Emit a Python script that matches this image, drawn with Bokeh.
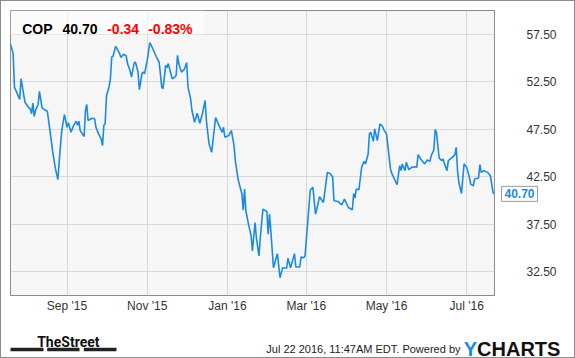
import pandas as pd
from bokeh.plotting import figure
from bokeh.layouts import column
from bokeh.models import (Range1d, FixedTicker, NumeralTickFormatter, Label,
                          BoxAnnotation, ColumnDataSource)
from bokeh.core.properties import value
from bokeh.embed import file_html
from bokeh.resources import INLINE

# ---------------- data ----------------
ticker = "COP"
last_price = 40.70
change = -0.34
change_pct = -0.83
timestamp_text = "Jul 22 2016, 11:47AM EDT. Powered by"

dates = [
    "2015-07-20", "2015-07-22", "2015-07-23", "2015-07-27", "2015-07-28", "2015-07-31",
    "2015-08-03", "2015-08-04", "2015-08-05", "2015-08-06", "2015-08-07", "2015-08-08",
    "2015-08-10", "2015-08-11", "2015-08-13", "2015-08-15", "2015-08-17", "2015-08-19",
    "2015-08-21", "2015-08-23", "2015-08-25", "2015-08-27", "2015-08-28", "2015-08-30",
    "2015-09-01", "2015-09-02", "2015-09-04", "2015-09-06", "2015-09-08", "2015-09-09",
    "2015-09-10", "2015-09-11", "2015-09-13", "2015-09-14", "2015-09-15", "2015-09-16",
    "2015-09-17", "2015-09-20", "2015-09-22", "2015-09-23", "2015-09-25", "2015-09-27",
    "2015-09-28", "2015-09-29", "2015-09-30",
    "2015-10-01", "2015-10-03", "2015-10-04", "2015-10-05", "2015-10-06", "2015-10-08",
    "2015-10-09", "2015-10-11", "2015-10-12", "2015-10-14", "2015-10-16", "2015-10-17",
    "2015-10-19", "2015-10-20", "2015-10-22", "2015-10-23", "2015-10-25", "2015-10-26",
    "2015-10-28", "2015-10-29", "2015-10-30", "2015-10-31",
    "2015-11-01", "2015-11-03", "2015-11-04", "2015-11-06", "2015-11-08", "2015-11-10",
    "2015-11-11", "2015-11-12", "2015-11-13", "2015-11-14", "2015-11-15", "2015-11-16",
    "2015-11-17", "2015-11-19", "2015-11-20", "2015-11-22", "2015-11-23", "2015-11-24",
    "2015-11-25", "2015-11-27", "2015-11-29", "2015-11-30",
    "2015-12-01", "2015-12-02", "2015-12-04", "2015-12-05", "2015-12-07", "2015-12-09",
    "2015-12-11", "2015-12-13", "2015-12-15", "2015-12-16", "2015-12-18", "2015-12-20",
    "2015-12-23", "2015-12-25", "2015-12-28", "2015-12-29", "2015-12-30",
    "2016-01-02", "2016-01-04", "2016-01-06", "2016-01-07", "2016-01-09", "2016-01-12",
    "2016-01-13", "2016-01-14", "2016-01-15", "2016-01-17", "2016-01-19", "2016-01-20",
    "2016-01-22", "2016-01-23", "2016-01-25", "2016-01-26", "2016-01-28", "2016-01-31",
    "2016-02-01", "2016-02-02", "2016-02-03", "2016-02-05", "2016-02-08", "2016-02-10",
    "2016-02-12", "2016-02-15", "2016-02-16", "2016-02-18", "2016-02-21", "2016-02-22",
    "2016-02-25", "2016-02-26", "2016-02-28", "2016-02-29",
    "2016-03-04", "2016-03-06", "2016-03-08", "2016-03-09", "2016-03-11", "2016-03-14",
    "2016-03-17", "2016-03-19", "2016-03-21", "2016-03-22", "2016-03-25", "2016-03-28",
    "2016-03-30",
    "2016-04-02", "2016-04-05", "2016-04-06", "2016-04-07", "2016-04-08", "2016-04-10",
    "2016-04-12", "2016-04-13", "2016-04-14", "2016-04-15", "2016-04-17", "2016-04-18",
    "2016-04-19", "2016-04-21", "2016-04-22", "2016-04-24", "2016-04-26", "2016-04-28",
    "2016-04-29",
    "2016-05-01", "2016-05-04", "2016-05-05", "2016-05-09", "2016-05-11", "2016-05-12",
    "2016-05-13", "2016-05-15", "2016-05-16", "2016-05-18", "2016-05-20", "2016-05-23",
    "2016-05-24", "2016-05-25", "2016-05-27", "2016-05-30",
    "2016-06-01", "2016-06-03", "2016-06-04", "2016-06-06", "2016-06-07", "2016-06-08",
    "2016-06-10", "2016-06-12", "2016-06-13", "2016-06-14", "2016-06-16", "2016-06-17",
    "2016-06-20", "2016-06-22", "2016-06-23", "2016-06-24", "2016-06-25", "2016-06-27",
    "2016-06-29",
    "2016-07-01", "2016-07-03", "2016-07-04", "2016-07-06", "2016-07-07", "2016-07-10",
    "2016-07-11", "2016-07-12", "2016-07-14", "2016-07-17", "2016-07-19", "2016-07-20",
    "2016-07-21", "2016-07-22",
]

prices = [
    56.44, 55.46, 51.94, 50.64, 52.82, 50.35,
    49.76, 49.65, 49.13, 50.25, 48.84, 49.47,
    50.11, 51.48, 49.76, 49.55, 49.40, 47.36,
    45.25, 43.49, 42.19, 45.78, 47.36, 49.05,
    47.71, 48.18, 47.18, 47.89, 48.35, 47.92,
    48.35, 47.36, 46.94, 46.73, 49.47, 50.11,
    48.42, 48.66, 48.60, 47.71, 47.01, 46.45,
    45.78, 47.89, 48.10,
    51.00, 52.00, 52.82, 55.10, 55.18, 56.23,
    55.99, 55.46, 55.04, 55.39, 55.21, 54.41,
    53.63, 52.99, 54.47, 54.58, 53.52, 51.66,
    53.35, 53.52, 53.35, 54.05,
    54.75, 56.62, 56.34, 55.74, 55.10, 54.58,
    53.35, 51.94, 51.77, 52.99, 54.23, 53.98,
    54.41, 53.35, 52.82, 52.99, 53.17, 55.28,
    54.41, 53.52, 53.77, 54.12,
    54.51, 51.94, 50.70, 49.47, 48.24, 49.19,
    48.13, 49.13, 50.53, 48.42, 45.96, 45.07,
    48.74, 48.07, 47.18, 47.71, 46.66,
    46.83, 47.36, 45.78, 44.19, 42.29, 40.68,
    38.99, 41.21, 38.92, 37.51, 36.27, 34.69,
    37.68, 36.10, 34.16, 36.10, 39.09, 38.84,
    36.45, 38.57, 36.80, 32.93, 34.41, 31.87,
    32.93, 32.86, 33.92, 32.93, 34.41, 33.00,
    33.00, 34.06, 33.98, 34.16,
    41.10, 41.38, 38.57, 39.09, 40.39, 39.79,
    42.96, 42.85, 42.51, 39.97, 39.90, 39.55,
    40.15,
    39.26, 39.02, 40.74, 40.26, 41.21, 41.13,
    43.42, 43.85, 44.12, 43.85, 44.90, 47.01,
    47.18, 46.23, 47.54, 46.31, 48.07, 47.79,
    47.44,
    47.01, 43.32, 42.85, 41.66, 43.67, 43.14,
    43.85, 43.14, 44.02, 43.24, 43.49, 43.56,
    43.49, 44.83, 44.37, 43.85,
    44.27, 44.12, 44.72, 45.32, 47.47, 47.18,
    44.48, 44.19, 44.37, 43.91, 43.14, 44.19,
    44.54, 44.83, 45.60, 43.14, 41.90, 40.74,
    43.85,
    43.49, 42.43, 41.73, 41.55, 42.26, 42.37,
    43.77, 42.96, 43.14, 42.96, 42.61, 41.73,
    40.85, 40.70,
]
assert len(dates) == len(prices)

x_tick_dates = ["2015-09-01", "2015-11-01", "2016-01-01", "2016-03-01", "2016-05-01", "2016-07-01"]
x_tick_labels = ["Sep '15", "Nov '15", "Jan '16", "Mar '16", "May '16", "Jul '16"]
y_ticks = [32.5, 37.5, 42.5, 47.5, 52.5, 57.5]
x_start, x_end = "2015-07-20", "2016-07-22 03:00"
y_start, y_end = 30, 60

# ---------------- styling ----------------
W, H1, H2 = 573, 318, 38
BL, BT, BR, BB = 9, 9, 80, 24
BLUE = "#1a8ae6"
FONT = "Liberation Sans"
C = dict(left_units="canvas", right_units="canvas", top_units="canvas", bottom_units="canvas")

src = ColumnDataSource(dict(date=pd.to_datetime(dates), price=prices))

p = figure(width=W, height=H1, x_axis_type="datetime", y_axis_location="right",
           x_range=Range1d(pd.Timestamp(x_start), pd.Timestamp(x_end)),
           y_range=Range1d(y_start, y_end),
           output_backend="svg", toolbar_location=None,
           min_border_left=BL, min_border_top=BT, min_border_right=BR, min_border_bottom=BB,
           background_fill_color="#f6f6f6", border_fill_color="white",
           outline_line_color="#8c8c8c", outline_line_width=1)
p.frame_align = False

tick_ms = [float(pd.Timestamp(d).value // 10**6) for d in x_tick_dates]
p.xaxis.ticker = FixedTicker(ticks=tick_ms)
p.xaxis.major_label_overrides = {t: lab for t, lab in zip(tick_ms, x_tick_labels)}
p.yaxis.ticker = FixedTicker(ticks=y_ticks)
p.yaxis.formatter = NumeralTickFormatter(format="0.00")

for ax in (p.xaxis[0], p.yaxis[0]):
    ax.axis_line_color = None
    ax.major_tick_line_color = None
    ax.minor_tick_line_color = None
    ax.major_tick_in = 0
    ax.major_tick_out = 0
    ax.major_label_text_font = FONT
    ax.major_label_text_font_size = "12px"
    ax.major_label_text_color = "#333333"
p.xaxis.major_label_standoff = 3
# the callout's side panel sits between the frame and the y-axis labels;
# pull the labels back towards the frame
p.yaxis.major_label_standoff = -4

p.grid.grid_line_color = "#d8d8d8"
p.grid.grid_line_width = 1

p.line(x="date", y="price", source=src, line_color=BLUE, line_width=1.6)

# header box (inside the frame)
p.add_layout(BoxAnnotation(left=BL, right=BL + 193, top=BT, bottom=BT + 24, **C,
                           fill_color="white", fill_alpha=0.6, line_color=None))
hdr = [(ticker, 11.7, "black"), (f"{last_price:.2f}", 52.0, "black"),
       (f"{change:.2f}", 96.7, "#ff0000"), (f"{change_pct:.2f}%", 137.7, "#ff0000")]
for txt, dx, col in hdr:
    p.add_layout(Label(x=BL + dx, y=BT + 18.3, x_units="canvas", y_units="canvas",
                       text=txt, text_font=FONT, text_font_size="14px",
                       text_font_style="bold", text_color=col,
                       text_baseline="alphabetic", text_align="left"))

# last price callout, right of the frame (in a side panel so it is not clipped)
frame_r = W - BR
callout = Label(x=frame_r + 7, y=last_price, x_units="canvas", y_units="data",
                text=f"{last_price:.2f}", text_font=FONT, text_font_size="12px",
                text_font_style="bold", text_color=BLUE,
                text_baseline="middle", text_align="left",
                background_fill_color="white", border_line_color="#9a9a9a",
                border_line_width=1, padding=3)
p.right.insert(0, callout)

# ---------------- footer strip ----------------
f = figure(width=W, height=H2, x_range=Range1d(0, W), y_range=Range1d(H2, 0),
           x_axis_location=None, y_axis_location=None,
           output_backend="svg", toolbar_location=None,
           min_border=0, min_border_left=0, min_border_right=0,
           min_border_top=0, min_border_bottom=0,
           background_fill_color="white", border_fill_color="white",
           outline_line_color=None)
f.frame_align = False
f.grid.visible = False

base = 29.5
f.text(x=[459], y=[base], text=[timestamp_text], text_font=value(FONT),
       text_font_size="11px", text_color="#222222", text_align="right",
       text_baseline="alphabetic")
f.text(x=[462.3], y=[base], text=["Y"], text_font=value(FONT), text_font_size="20px",
       text_font_style="bold", text_color=BLUE, text_align="left", text_baseline="alphabetic")
f.text(x=[475.6], y=[base], text=["CHARTS"], text_font=value(FONT), text_font_size="20px",
       text_font_style="bold", text_color="#111111", text_align="left",
       text_baseline="alphabetic")
f.text(x=[35.7], y=[22.7], text=["TheStreet"], text_font=value("Roboto"),
       text_font_size="14px", text_font_style="bold", text_color="#111111",
       text_align="left", text_baseline="alphabetic")
f.quad(left=[9, 45.7, 82.3], right=[42, 78, 115], top=[28.3] * 3, bottom=[31.7] * 3,
       fill_color="#222222", line_color=None)

layout = column(p, f, spacing=0, styles={"border": "1px solid #8c8c8c"})

open("out.html", "w").write(file_html(layout, INLINE))
